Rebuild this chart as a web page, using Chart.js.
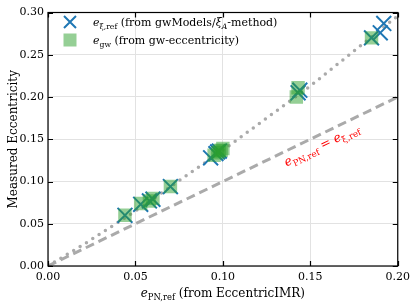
<!DOCTYPE html>
<html>
<head>
<meta charset="utf-8">
<script src="https://cdn.jsdelivr.net/npm/chart.js@4.4.1/dist/chart.umd.min.js"></script>
<style>
  html, body { margin: 0; padding: 0; background: #fff; }
</style>
</head>
<body>
<canvas id="chart" width="415" height="305"></canvas>
<script>
  // ── Data ────────────────────────────────────────────────────
  const xiPN  = [0.044, 0.053, 0.058, 0.060, 0.070, 0.093, 0.096, 0.097, 0.098, 0.143, 0.144, 0.185, 0.190, 0.192];
  const xiEcc = [0.060, 0.073, 0.077, 0.079, 0.094, 0.128, 0.133, 0.135, 0.136, 0.205, 0.208, 0.270, 0.276, 0.287];

  const gwPN  = [0.044, 0.053, 0.058, 0.060, 0.070, 0.095, 0.097, 0.098, 0.099, 0.100, 0.142, 0.143, 0.185];
  const gwEcc = [0.060, 0.074, 0.077, 0.080, 0.094, 0.131, 0.134, 0.136, 0.137, 0.139, 0.200, 0.211, 0.270];

  const unityX = [0.0, 0.2];
  const unityY = [0.0, 0.2];

  const trendX = [0.0, 0.02, 0.05, 0.10, 0.15, 0.20];
  const trendY = [0.0, 0.025, 0.065, 0.137, 0.213, 0.296];

  const xTicks = [0.00, 0.05, 0.10, 0.15, 0.20];
  const yTicks = [0.00, 0.05, 0.10, 0.15, 0.20, 0.25, 0.30];

  // ── Style ───────────────────────────────────────────────────
  const C = {
    blue: "#1f77b4",
    green: "rgba(44,160,44,0.5)",
    line: "#aaaaaa",
    grid: "#e2e2e2",
    red: "#ff0000",
    text: "#000"
  };
  const FONT = "'DejaVu Serif', serif";

  const zip = (xs, ys) => xs.map((x, i) => ({ x, y: ys[i] }));

  // rich text: parts [{t, it, sub}]
  function richWidth(ctx, parts, fs) {
    let w = 0;
    parts.forEach(p => {
      const size = p.sub ? fs * 0.7 : fs;
      ctx.font = (p.it ? "italic " : "") + size + "px " + FONT;
      w += ctx.measureText(p.t).width;
    });
    return w;
  }
  function drawRich(ctx, parts, x, y, fs) {
    let cx = x;
    parts.forEach(p => {
      const size = p.sub ? fs * 0.7 : fs;
      ctx.font = (p.it ? "italic " : "") + size + "px " + FONT;
      ctx.fillText(p.t, cx, p.sub ? y + fs * 0.28 : y);
      cx += ctx.measureText(p.t).width;
    });
  }

  function drawCross(ctx, x, y, h) {
    ctx.save();
    ctx.strokeStyle = C.blue;
    ctx.lineWidth = 2;
    ctx.beginPath();
    ctx.moveTo(x - h, y - h); ctx.lineTo(x + h, y + h);
    ctx.moveTo(x - h, y + h); ctx.lineTo(x + h, y - h);
    ctx.stroke();
    ctx.restore();
  }

  const overlay = {
    id: "overlay",
    afterDraw(chart) {
      const { ctx, chartArea: a, scales: { x, y } } = chart;
      ctx.save();

      // frame + inward ticks on all sides
      ctx.strokeStyle = "#000";
      ctx.lineWidth = 1.2;
      ctx.strokeRect(a.left, a.top, a.right - a.left, a.bottom - a.top);
      ctx.beginPath();
      xTicks.forEach(v => {
        const px = Math.round(x.getPixelForValue(v)) + 0.5;
        ctx.moveTo(px, a.bottom); ctx.lineTo(px, a.bottom - 5);
        ctx.moveTo(px, a.top); ctx.lineTo(px, a.top + 5);
      });
      yTicks.forEach(v => {
        const py = Math.round(y.getPixelForValue(v)) + 0.5;
        ctx.moveTo(a.left, py); ctx.lineTo(a.left + 5, py);
        ctx.moveTo(a.right, py); ctx.lineTo(a.right - 5, py);
      });
      ctx.stroke();

      ctx.fillStyle = C.text;
      ctx.textBaseline = "alphabetic";

      // x title
      const xt = [{ t: "e", it: 1 }, { t: "PN,ref", sub: 1 }, { t: " (from EccentricIMR)" }];
      const xw = richWidth(ctx, xt, 12);
      drawRich(ctx, xt, (a.left + a.right) / 2 - xw / 2, 297, 12);

      // y title
      ctx.save();
      ctx.translate(17, (a.top + a.bottom) / 2);
      ctx.rotate(-Math.PI / 2);
      ctx.font = "12px " + FONT;
      ctx.textAlign = "center";
      ctx.fillText("Measured Eccentricity", 0, 0);
      ctx.restore();

      // legend
      drawCross(ctx, 70, 22, 6);
      ctx.fillStyle = C.green;
      ctx.fillRect(63.5, 33.5, 13, 13);
      ctx.fillStyle = C.text;
      drawRich(ctx, [{ t: "e", it: 1 }, { t: "ξ,ref", sub: 1 }, { t: " (from gwModels/" },
                     { t: "ξ", it: 1 }, { t: "A", it: 1, sub: 1 }, { t: "-method)" }], 93, 26, 11);
      drawRich(ctx, [{ t: "e", it: 1 }, { t: "gw", sub: 1 }, { t: " (from gw-eccentricity)" }], 93, 44, 11);

      // unity label, rotated along the dashed line
      const p0x = x.getPixelForValue(unityX[0]), p0y = y.getPixelForValue(unityY[0]);
      const p1x = x.getPixelForValue(unityX[1]), p1y = y.getPixelForValue(unityY[1]);
      const ang = Math.atan2(p1y - p0y, p1x - p0x);
      const lbl = [{ t: "e", it: 1 }, { t: "PN,ref", sub: 1 }, { t: " = " }, { t: "e", it: 1 }, { t: "ξ,ref", sub: 1 }];
      ctx.save();
      ctx.translate(x.getPixelForValue(0.1565), y.getPixelForValue(0.143));
      ctx.rotate(ang);
      ctx.fillStyle = C.red;
      const lw = richWidth(ctx, lbl, 12.5);
      drawRich(ctx, lbl, -lw / 2, 4, 12.5);
      ctx.restore();

      ctx.restore();
    }
  };

  const tickFont = { family: FONT, size: 11 };

  new Chart(document.getElementById("chart"), {
    type: "scatter",
    data: {
      datasets: [
        {
          label: "e_gw",
          data: zip(gwPN, gwEcc),
          pointStyle: "rect",
          pointRadius: 9.5,
          pointHoverRadius: 9.5,
          backgroundColor: C.green,
          borderWidth: 0,
          order: 0
        },
        {
          label: "e_xi",
          data: zip(xiPN, xiEcc),
          pointStyle: "crossRot",
          pointRadius: 10.5,
          pointHoverRadius: 10.5,
          borderColor: C.blue,
          borderWidth: 2,
          order: 1
        },
        {
          type: "line",
          data: zip(trendX, trendY),
          borderColor: C.line,
          borderWidth: 3.5,
          borderDash: [0, 7.5],
          borderCapStyle: "round",
          pointRadius: 0,
          fill: false,
          order: 2
        },
        {
          type: "line",
          data: zip(unityX, unityY),
          borderColor: C.line,
          borderWidth: 3,
          borderDash: [9, 5],
          pointRadius: 0,
          fill: false,
          order: 3
        }
      ]
    },
    options: {
      responsive: false,
      animation: false,
      events: [],
      layout: { padding: { top: 8, right: 14, left: 0, bottom: 0 } },
      plugins: { legend: { display: false }, tooltip: { enabled: false } },
      scales: {
        x: {
          type: "linear",
          min: 0, max: 0.2,
          afterBuildTicks: s => { s.ticks = xTicks.map(v => ({ value: v })); },
          afterFit: s => { s.height = 39; },
          grid: { color: C.grid, drawTicks: false },
          border: { display: false },
          ticks: { padding: 5, color: C.text, font: tickFont, maxRotation: 0, callback: v => v.toFixed(2) }
        },
        y: {
          type: "linear",
          min: 0, max: 0.3,
          afterBuildTicks: s => { s.ticks = yTicks.map(v => ({ value: v })); },
          afterFit: s => { s.width = 48; },
          grid: { color: C.grid, drawTicks: false },
          border: { display: false },
          ticks: { padding: 4, color: C.text, font: tickFont, callback: v => v.toFixed(2) }
        }
      }
    },
    plugins: [overlay]
  });
</script>
</body>
</html>
